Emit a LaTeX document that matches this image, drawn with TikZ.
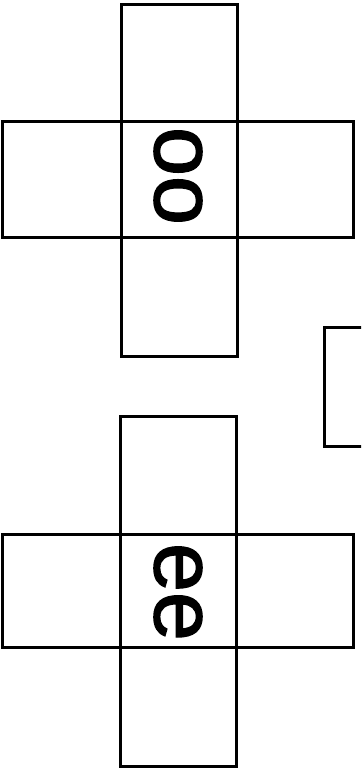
\documentclass[tikz,border=0pt]{standalone}
\usepackage{fontspec}
\setmainfont{Liberation Sans}
\newfontfamily\heavysans[FakeBold=1.6]{Liberation Sans}
\begin{document}
\begin{tikzpicture}[x=1pt,y=-1pt,
  cell/.style={draw=black,line width=3pt,line join=miter},
  letters/.style={rotate=-90,inner sep=0pt,font=\heavysans\fontsize{88}{88}\selectfont}]
\useasboundingbox (0,0) rectangle (361,770);
\clip (0,0) rectangle (361,770);
% top cross
\draw[cell] (121,5) rectangle (237,356);
\draw[cell] (2,122) rectangle (353,237);
\node[letters] (oo) at (178,176) {oo};
% right small box (cut off)
\draw[cell] (380,327) -- (324,327) -- (324,446) -- (380,446);
% bottom cross
\draw[cell] (120,416) rectangle (236,766);
\draw[cell] (2,534) rectangle (353,647);
\node[letters] (ee) at (178,592) {ee};
\end{tikzpicture}
\end{document}
